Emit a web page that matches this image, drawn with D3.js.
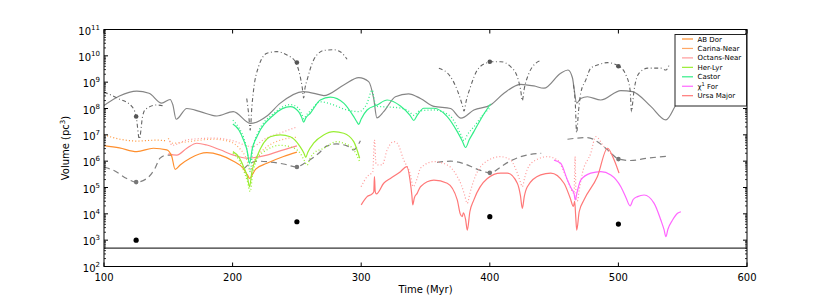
<!DOCTYPE html>
<html>
<head>
<meta charset="utf-8">
<script src="https://cdn.jsdelivr.net/npm/d3@7"></script>
<style>
  body { margin: 0; background: #fff; }
  text { font-family: "DejaVu Sans", sans-serif; }
</style>
</head>
<body>
<svg id="chart" width="830" height="297"></svg>
<script>
// ---------------- DATA ----------------
const xTicks = [100, 200, 300, 400, 500, 600];
const yTickExponents = [2, 3, 4, 5, 6, 7, 8, 9, 10, 11];

const legendNames = ["AB Dor", "Carina-Near", "Octans-Near", "Her-Lyr", "Castor", "χ1 For", "Ursa Major"];
const legendColors = ["#ff8f2e", "#ffa866", "#ff9a9a", "#99ee33", "#33ee88", "#ff66ff", "#ff7878"];

const floorVolume = 500;

// gray solid line [time, volume]
const grayLine = [
  [100,1.3e8],[112,3.0e8],[125.5,4.6e8],[135,3.8e8],[144.9,1.6e8],[151.4,2.2e8],[153.5,1.4e8],[156.1,3.9e7],
  [164.4,1.0e8],[174.8,7.6e7],[187.8,5.2e7],[200.5,7.6e7],[214.1,2.7e7],[226.7,5.2e7],[237.1,1.6e8],
  [255,4.4e8],[268.2,3.3e8],[270.8,3.1e8],[286.4,7.8e8],[298.1,1.5e9],[305.8,1.05e9],[309.7,2.4e8],
  [312.2,4.4e7],[317.5,7.6e7],[326.6,2.8e8],[336.8,3.6e8],[346.1,2.4e8],[356.5,1.2e8],[369.5,1.0e8],
  [377.6,4.3e7],[387.6,8.8e7],[400.6,1.36e8],[411,3.8e8],[424,8.3e8],[434.3,7.2e8],[442.1,5.9e8],
  [455.1,2.2e9],[460.8,2.9e9],[464.2,1.5e9],[467.6,1.6e8],[470.7,2.4e8],[475.9,2.8e8],[486.3,2.1e8],
  [501.9,4.8e8],[511,4.4e8],[525.2,1.2e8],[536.9,3.7e7],[546,1.6e8],[560,3.0e8],[580,2.0e8]
];

// gray dash-dot segments
const grayDashDot = [
  [[100,4.2e8],[111,2.4e8],[121.6,1.2e8],[125,5e7],[127.5,7e6],[130,5e7],[132,9e7],[141,1.36e8],[147.5,1.2e8]],
  [[211,2.4e8],[212.5,6e7],[213.7,1.5e7],[215,1.2e8],[216.3,5e8],[220.2,3.9e9],[226.7,1.25e10],[234.5,1.44e10],
   [242.3,1.08e10],[248.8,6e9],[252.6,1.6e9],[254.2,6e8],[255.2,2.5e8],[256.3,6e8],[257.9,1.2e9],[263,7e9],
   [266.9,1.25e10],[270.8,1.6e10],[278.6,1.7e10],[284,1.4e10],[289,7.4e9]],
  [[360.4,3.4e9],[369.5,1.6e9],[374.7,5e8],[378.6,1.36e8],[380,8e7],[381.5,1.8e8],[385,6.7e8],[390.3,2.9e9],
   [398,5.5e9],[400.6,6e9],[408.4,6e9],[416.2,3.9e9],[421.4,1.6e9],[424,5e8],[425.3,2e8],[426.6,5e8],
   [430.5,2.2e9],[435.7,5.2e9],[439.6,6.6e9]],
  [[465,8e8],[466.5,1.5e8],[467.5,1.2e7],[469,8e7],[470.7,3.8e8],[474.6,1.2e9],[478.5,3.4e9],[483.7,4.5e9],
   [491.5,5.5e9],[500.5,4e9],[505.8,1.9e9],[509.1,5e8],[510.2,7.6e7],[511.2,1.8e8],[512.2,5e8],[516.1,2.2e9],
   [522.7,3.4e9],[533,3.4e9],[536.9,2.9e9],[539.5,4.5e9]]
];

// gray dashed segments
const grayDashed = [
  [[100,5.9e5],[107,4.6e5],[117.7,2.2e5],[125,1.6e5],[133.3,2.2e5],[139.7,5.4e5],[143.6,1.3e6],[148.8,1.7e6],[153,1.7e6]],
  [[208.5,5e5],[213.7,8.3e5],[220,1.0e6],[226.7,9.6e5],[239.6,7.8e5],[250,6e5],[255,7.8e5],[262,1.3e6],
   [267,2e6],[273.4,3.8e6],[281,4.5e6],[289,3.8e6],[294,2.7e6],[299.4,6e6]],
  [[359,9e5],[369.5,1.0e6],[380,8e5],[390,5e5],[400.6,3.6e5],[408.4,6e5],[414,9e5],[424,1.48e6],[440,2e6]],
  [[460.4,6.8e6],[476,7.9e6],[483.7,5.5e6],[491.5,2.7e6],[500.5,1.2e6],[509.6,1.06e6],[522.7,1.3e6],[539.5,1.57e6]]
];

// dots
const presentTimes = [125, 250, 400, 500];
const presentVolumes = [1000, 5000, 7800, 4100];
const dashDotDotVolumes = [5e7, 5.6e9, 6e9, 4e9];
const dashedDotVolumes = [1.6e5, 6e5, 3.6e5, 1.2e6];

// coloured groups
const abDorSolid = [[100,3.9e6],[112,3.2e6],[125.5,2.3e6],[138.4,3.1e6],[148.8,2.7e6],[152.7,1.5e6],[155.3,4.9e5],
  [159.2,7.2e5],[167,1.3e6],[180,2.1e6],[190.3,1.7e6],[200.7,1.0e6],[208,5.5e5],[211.5,3e5],[213.3,2.2e5],
  [215.5,3.2e5],[218,5e5],[226.7,8.3e5],[239.6,1.5e6],[250,2.2e6]];
const abDorDotted = [[100,1.0e7],[112.5,6.8e6],[125.5,5.8e6],[141,6.3e6],[147.5,6e6]];
const carinaNearDotted = [[150,7.4e6],[152.7,4.8e6],[163,5.3e6],[174.8,6.3e6],[185,6.8e6],[198,5.5e6],[205,3.2e6],
  [208.5,2e6],[211.5,1e6],[213.7,4e5],[216,9e5],[219,1.5e6],[226.7,3.5e6],[239.6,6.8e6],[250,8.1e6]];
const octansNearSolid = [[150,1.9e6],[156.6,1.7e6],[164.4,3.1e6],[172.2,4.8e6],[180,4.1e6],[190.3,2.7e6],
  [200.7,1.7e6],[211,1.3e6],[226.7,1.7e6],[239.6,2.7e6],[250,3.8e6]];
const octansNearDotted = [[151,6e6],[153,4e6],[165,6.5e6],[185,7.5e6],[200,6e6],[210,4e6],[215,3.5e6],[225,7e6],
  [239.6,1.3e7],[250,2e7]];
const herLyrSolid = [[200.2,2.3e6],[205,1.4e6],[208.5,6.2e5],[211.5,2.5e5],[213.2,1.07e5],[215,4e5],[218.9,1.48e6],
  [229.3,8.5e6],[237.1,9.9e6],[244.9,8.5e6],[252.6,3.5e6],[255.5,2e6],[256.9,1.4e6],[258.5,2.2e6],[263,4.8e6],
  [270.8,9.9e6],[278.6,1.32e7],[286.4,1.15e7],[294.2,5.5e6],[298.8,1.29e6]];
const herLyrDotted = [[200.2,2e6],[205,1.1e6],[208.5,4.5e5],[211.5,1.7e5],[213.7,7e4],[215.5,3e5],[219,1.2e6],
  [226.7,2.7e6],[237,4e6],[245,3.5e6],[252.6,2e6],[255.5,1.1e6],[257.9,7e5],[260,1.2e6],[263,2e6],
  [270.8,3.1e6],[281,5.5e6],[286.4,4.8e6],[294.2,2.7e6],[298.8,9.6e5]];
const castorSolid = [[200.2,2.6e7],[205,1.5e7],[208.5,6.4e6],[211.3,2.5e6],[213.2,8.3e5],[215.3,3e6],[218.9,8.5e6],
  [231.9,5.7e7],[244.9,1.17e8],[251.3,7.6e7],[253.8,4.5e7],[255.2,3.0e7],[256.8,4.3e7],[260.4,6.6e7],[268.2,2.1e8],
  [276,2.7e8],[286.4,1.6e8],[294.2,4.9e7],[296.5,3.2e7],[298.1,2.5e7],[300,4e7],[304.6,8.8e7],[312.4,1.36e8],
  [320.2,2.1e8],[330.5,1.25e8],[338,5.5e7],[340.9,3.5e7],[343.5,5.5e7],[348.7,1.02e8],[356.5,1.02e8],
  [366.9,4.9e7],[374.7,1.32e7],[378.5,6e6],[381.2,3.3e6],[384,6.5e6],[387.6,1.32e7],[395.4,6.2e7],[400.6,1.49e8]];
const castorDotted = [[200.2,3.6e7],[205,1.8e7],[208.5,8e6],[211.3,2.5e6],[213.7,4e5],[215.7,3e6],[219,1.0e7],
  [232,6.5e7],[245,1.4e8],[251.5,1e8],[253.8,6e7],[255.5,4e7],[257.2,5.5e7],[260.4,8e7],[268.2,1.8e8],
  [276,1.5e8],[289,8.8e7],[298.1,7.6e7],[304.6,1.6e8],[308.5,5e8],[310.5,1.8e8],[312.5,1.2e8],[320,1.15e8],
  [330,1.05e8],[336.8,8e7],[341,5.5e7],[345,8e7],[356.5,8.8e7],[369.5,5e7],[375,1.8e7],[377.6,1.0e7],
  [380,6e6],[382.5,1.0e7],[387.6,2.0e7],[395,6e7],[400.6,1.1e8]];
const chi1ForSolid = [[449.9,1.1e6],[455.1,8.3e5],[460.4,1.9e5],[463.5,9e4],[465.5,6e4],[466.4,3.4e4],[468,7e4],
  [470.7,1.9e5],[478.5,3.5e5],[486.3,4e5],[494.1,3e5],[501.9,1.07e5],[506,4e4],[509.1,2e4],[511.5,3.5e4],
  [514.9,4.5e4],[520,5.2e4],[527.8,2.5e4],[533,5.8e3],[535.5,2.5e3],[536.9,1.36e3],[538.5,2.6e3],[542.1,5.8e3],
  [546,1.05e4],[548.6,1.2e4]];
const ursaMajorSolid = [[300,2.2e4],[304.6,4.5e4],[308.5,5.7e4],[309.8,7e4],[310.3,2.6e5],[310.9,7e4],[311.8,5.7e4],
  [317.5,1.45e5],[322.7,2.2e5],[330.5,4e5],[335.4,6.2e5],[338.3,1.45e5],[339.4,5e4],[340.1,2.2e4],[341.3,4e4],
  [343.5,6e4],[346.1,1.07e5],[356.5,1.9e5],[366.9,1.45e5],[374.7,3.4e4],[377,1.0e4],[378.6,7.8e3],[379.5,1.1e4],
  [381.2,6e3],[382.5,2.4e3],[384.5,1.2e4],[387.6,3.4e4],[398.1,2.2e5],[408.4,3.5e5],[413.6,3.5e5],[421.4,1.45e5],
  [423.8,5e4],[425.3,1.6e4],[426.8,4.5e4],[429.2,1.07e5],[439.6,3e5],[447.4,3.5e5],[457.7,1.45e5],[462.5,4e4],
  [465,1.9e4],[466,3e4],[466.8,8e3],[467.6,2.4e3],[469.5,1.2e4],[473.3,3.4e4],[483.7,2.6e5],[491.5,3.1e6],
  [496.7,1.1e6],[500.5,3.5e5]];
const ursaMajorDotted = [[299.9,1.07e5],[304.6,2.6e5],[309,4e5],[310.3,6.4e6],[311.5,8e5],[313,7.2e5],[316.3,7.2e5],
  [320.2,2.7e6],[325.3,5.5e6],[328,4.8e6],[333.1,1.1e6],[338.3,3e5],[340.4,1.07e5],[343.5,2.2e5],[346.1,5.4e5],
  [356.5,9.6e5],[366.9,7.2e5],[374.7,2.6e5],[378,1.2e5],[380.5,5e4],[382.5,2.5e4],[384.5,6e4],[387.6,1.9e5],
  [395.4,8.3e5],[408.4,1.48e6],[416.2,1.1e6],[421.4,3.5e5],[423.5,1.8e5],[425.3,1.07e5],[427,2.2e5],[429.2,5e5],
  [435.7,1.1e6],[444.8,1.48e6],[452.6,1.1e6],[460.4,1.9e5],[465.5,6e4],[466.3,1.48e6],[467,6e4],[468.1,3e4],
  [469.5,8e4],[472,3.5e5],[478.5,2e6],[482.4,8.5e6],[488.9,3.5e6],[495.4,1.7e6]];

// ---------------- CHART ----------------
const svg = d3.select("#chart");
const pL = 104, pR = 747, pT = 29.5, pB = 266.5;
const x = d3.scaleLinear().domain([100, 600]).range([pL, pR]);
const y = d3.scaleLog().domain([1e2, 1e11]).range([pB, pT]);

svg.append("defs").append("clipPath").attr("id", "clip")
  .append("rect").attr("x", pL).attr("y", pT).attr("width", pR - pL).attr("height", pB - pT);

const plot = svg.append("g").attr("clip-path", "url(#clip)");
const line = d3.line().x(d => x(d[0])).y(d => y(d[1])).curve(d3.curveMonotoneX);

function draw(data, color, dash, width) {
  plot.append("path").datum(data)
    .attr("d", line).attr("fill", "none")
    .attr("stroke", color).attr("stroke-width", width || 1.1)
    .attr("stroke-dasharray", dash || null)
    .attr("stroke-linejoin", "round");
}

const DOT = "1,2.2";
draw(grayLine, "#858585", null, 1.2);
grayDashDot.forEach(s => draw(s, "#666666", "4,2.5,1,2.5", 1.1));
grayDashed.forEach(s => draw(s, "#808080", "6,4", 1.2));

draw(abDorDotted, legendColors[0], DOT, 1.2);
draw(carinaNearDotted, legendColors[1], DOT, 1.2);
draw(octansNearDotted, legendColors[2], DOT, 1.2);
draw(octansNearSolid, "#ff8a8a", null, 1.2);
draw(abDorSolid, legendColors[0], null, 1.2);
draw(herLyrDotted, legendColors[3], DOT, 1.3);
draw(herLyrSolid, legendColors[3], null, 1.2);
draw(castorDotted, legendColors[4], DOT, 1.3);
draw(castorSolid, legendColors[4], null, 1.2);
draw(ursaMajorDotted, "#ff9a9a", DOT, 1.2);
draw(chi1ForSolid, legendColors[5], null, 1.2);
draw(ursaMajorSolid, legendColors[6], null, 1.2);

plot.append("line").attr("x1", pL).attr("x2", pR)
  .attr("y1", y(floorVolume)).attr("y2", y(floorVolume))
  .attr("stroke", "#000").attr("stroke-width", 1);

plot.selectAll(".dd").data(presentTimes).enter().append("circle")
  .attr("cx", d => x(d)).attr("cy", (d, i) => y(dashDotDotVolumes[i])).attr("r", 2.3).attr("fill", "#555");
plot.selectAll(".ds").data(presentTimes).enter().append("circle")
  .attr("cx", d => x(d)).attr("cy", (d, i) => y(dashedDotVolumes[i])).attr("r", 2.3).attr("fill", "#777");
plot.selectAll(".pr").data(presentTimes).enter().append("circle")
  .attr("cx", d => x(d)).attr("cy", (d, i) => y(presentVolumes[i])).attr("r", 2.6).attr("fill", "#000");

svg.append("rect").attr("x", pL).attr("y", pT).attr("width", pR - pL).attr("height", pB - pT)
  .attr("fill", "none").attr("stroke", "#000").attr("stroke-width", 1);

const axG = svg.append("g");
xTicks.forEach(t => {
  axG.append("line").attr("x1", x(t)).attr("x2", x(t)).attr("y1", pB).attr("y2", pB - 4).attr("stroke", "#000");
  axG.append("line").attr("x1", x(t)).attr("x2", x(t)).attr("y1", pT).attr("y2", pT + 4).attr("stroke", "#000");
  axG.append("text").attr("x", x(t)).attr("y", 281).attr("text-anchor", "middle")
    .attr("font-size", 10).text(t);
});
yTickExponents.forEach(e => {
  const v = Math.pow(10, e);
  axG.append("line").attr("x1", pL).attr("x2", pL + 4).attr("y1", y(v)).attr("y2", y(v)).attr("stroke", "#000");
  axG.append("line").attr("x1", pR).attr("x2", pR - 4).attr("y1", y(v)).attr("y2", y(v)).attr("stroke", "#000");
  const tx = axG.append("text").attr("x", 100).attr("y", y(v) + 5).attr("text-anchor", "end").attr("font-size", 10);
  tx.append("tspan").text("10");
  tx.append("tspan").attr("dy", -5).attr("font-size", 7).text(e);
  if (e < 11) {
    for (let m = 2; m <= 9; m++) {
      const mv = m * v;
      axG.append("line").attr("x1", pL).attr("x2", pL + 2).attr("y1", y(mv)).attr("y2", y(mv)).attr("stroke", "#000").attr("stroke-width", 0.8);
      axG.append("line").attr("x1", pR).attr("x2", pR - 2).attr("y1", y(mv)).attr("y2", y(mv)).attr("stroke", "#000").attr("stroke-width", 0.8);
    }
  }
});

svg.append("text").attr("x", (pL + pR) / 2).attr("y", 293).attr("text-anchor", "middle")
  .attr("font-size", 10).text("Time (Myr)");
const yl = svg.append("text").attr("transform", `translate(69,${(pT + pB) / 2}) rotate(-90)`)
  .attr("text-anchor", "middle").attr("font-size", 10);
yl.append("tspan").text("Volume (pc");
yl.append("tspan").attr("dy", -4).attr("font-size", 7).text("3");
yl.append("tspan").attr("dy", 4).text(")");

const lg = svg.append("g");
lg.append("rect").attr("x", 675).attr("y", 34.5).attr("width", 71.5).attr("height", 71.5)
  .attr("fill", "#fff").attr("stroke", "#222").attr("stroke-width", 1);
legendNames.forEach((n, i) => {
  const yy = 39 + i * 9.45;
  lg.append("line").attr("x1", 682).attr("x2", 693).attr("y1", yy).attr("y2", yy)
    .attr("stroke", legendColors[i]).attr("stroke-width", 1.2);
  const t = lg.append("text").attr("x", 697.5).attr("y", yy + 2.5).attr("font-size", 7);
  if (n === "χ1 For") {
    t.append("tspan").text("χ");
    t.append("tspan").attr("dy", -3).attr("font-size", 5).text("1");
    t.append("tspan").attr("dy", 3).text(" For");
  } else {
    t.text(n);
  }
});
</script>
</body>
</html>
